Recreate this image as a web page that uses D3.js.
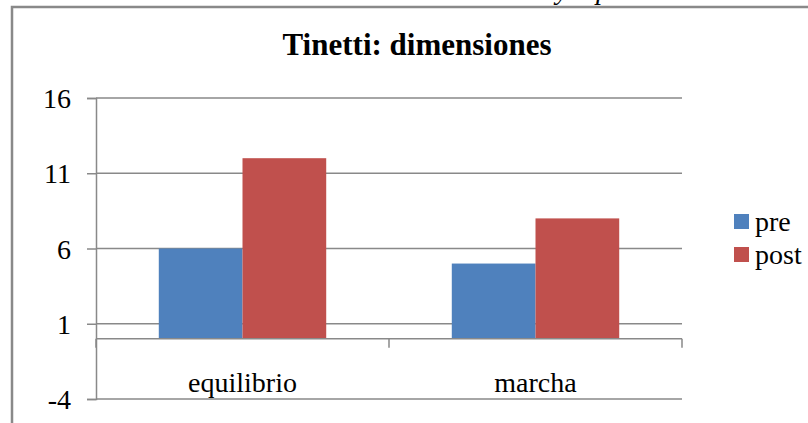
<!DOCTYPE html>
<html>
<head>
<meta charset="utf-8">
<script src="https://cdn.jsdelivr.net/npm/d3@7"></script>
<style>
  html, body { margin: 0; padding: 0; background: #fff; }
  svg { display: block; font-family: "Liberation Serif", "Times New Roman", serif; }
</style>
</head>
<body>
<svg id="chart" width="808" height="423"></svg>
<script>
// Tinetti scores by dimension, before and after
const categories = ["equilibrio", "marcha"];
const seriesNames = ["pre", "post"];
const preValues = [6, 5];
const postValues = [12, 8];
const yTicks = [-4, 1, 6, 11, 16];
const colors = ["#4F81BD", "#C0504D"];
const chartTitle = "Tinetti: dimensiones";

const seriesValues = [preValues, postValues];
const rows = categories.map((c, i) => ({
  category: c,
  values: seriesNames.map((s, j) => ({ series: s, value: seriesValues[j][i], color: colors[j] }))
}));

const svg = d3.select("#chart");
const axisColor = "#898989";

const plotLeft = 96, plotRight = 682, plotTop = 98, plotBottom = 399;

// Surrounding chart frame (runs past the right and bottom edges)
svg.append("rect")
  .attr("x", 12).attr("y", 7)
  .attr("width", 830).attr("height", 440)
  .attr("fill", "none").attr("stroke", axisColor).attr("stroke-width", 2.5);

// Fragment of the caption line sitting above the frame
svg.append("text").attr("x", 556).attr("y", -1)
  .attr("font-style", "italic").attr("font-size", 28).text("y");
svg.append("text").attr("x", 596).attr("y", -1)
  .attr("font-style", "italic").attr("font-size", 28).text("p");

const y = d3.scaleLinear().domain([d3.min(yTicks), d3.max(yTicks)]).range([plotBottom, plotTop]);
const x = d3.scaleBand().domain(categories).range([plotLeft, plotRight]).padding(0);
const bw = x.bandwidth();
const barW = bw / 3.5;
const xs = d3.scaleBand().domain(seriesNames).range([0.75 * barW, 2.75 * barW]).padding(0);

// Horizontal gridlines
svg.append("g").selectAll("line").data(yTicks).join("line")
  .attr("x1", plotLeft).attr("x2", plotRight)
  .attr("y1", d => y(d)).attr("y2", d => y(d))
  .attr("stroke", axisColor).attr("stroke-width", 1.5);

// Value axis (plain hyphen for negatives)
const yAxis = d3.axisLeft(y).tickValues(yTicks).tickSize(9).tickPadding(16).tickFormat(d => String(d));
const gy = svg.append("g").attr("transform", `translate(${plotLeft},0)`).call(yAxis);
gy.select(".domain").attr("stroke", axisColor).attr("stroke-width", 1.5);
gy.selectAll(".tick line").attr("stroke", axisColor).attr("stroke-width", 1.5);
gy.selectAll(".tick text")
  .attr("font-family", "Liberation Serif, Times New Roman, serif")
  .attr("font-size", 28).attr("fill", "#000").attr("dy", "0.34em");

// Bars, rising from zero
const groups = svg.append("g").selectAll("g").data(rows).join("g")
  .attr("transform", d => `translate(${x(d.category)},0)`);
groups.selectAll("rect").data(d => d.values).join("rect")
  .attr("x", d => xs(d.series))
  .attr("width", xs.bandwidth())
  .attr("y", d => Math.min(y(d.value), y(0)))
  .attr("height", d => Math.abs(y(0) - y(d.value)))
  .attr("fill", d => d.color);

// Category axis crossing at zero, ticks between categories
const y0 = y(0);
svg.append("line")
  .attr("x1", plotLeft).attr("x2", plotRight).attr("y1", y0).attr("y2", y0)
  .attr("stroke", axisColor).attr("stroke-width", 1.5);
const boundaries = categories.map(c => x(c)).concat([x(categories[categories.length - 1]) + bw]);
svg.append("g").selectAll("line").data(boundaries).join("line")
  .attr("x1", d => d).attr("x2", d => d)
  .attr("y1", y0).attr("y2", y0 + 9)
  .attr("stroke", axisColor).attr("stroke-width", 1.5);

svg.append("g").selectAll("text").data(categories).join("text")
  .attr("x", d => x(d) + bw / 2)
  .attr("y", 392)
  .attr("text-anchor", "middle")
  .attr("font-size", 28)
  .text(d => d);

// Title
svg.append("text")
  .attr("x", 417).attr("y", 55)
  .attr("text-anchor", "middle")
  .attr("font-weight", "bold")
  .attr("font-size", 31)
  .text(chartTitle);

// Legend
const legend = svg.append("g").selectAll("g").data(seriesNames).join("g")
  .attr("transform", (d, i) => `translate(734,${214 + i * 33})`);
legend.append("rect").attr("width", 15).attr("height", 15)
  .attr("fill", (d, i) => colors[i]);
legend.append("text").attr("x", 21).attr("y", 17)
  .attr("font-size", 28).text(d => d);
</script>
</body>
</html>
